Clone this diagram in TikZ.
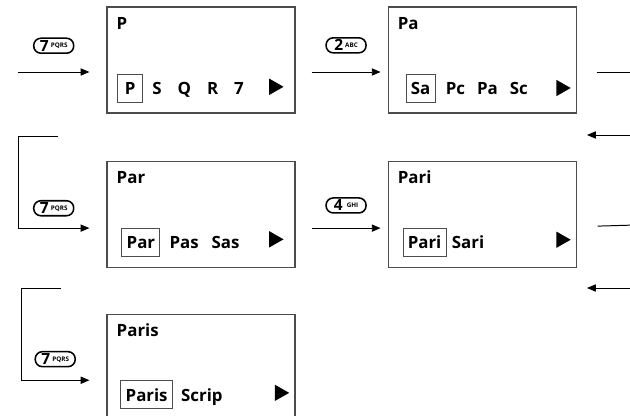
\documentclass[tikz,border=0pt]{standalone}
\usepackage{fontspec}
\setmainfont{Open Sans}
\usetikzlibrary{arrows.meta, positioning, calc}

\begin{document}
\begin{tikzpicture}[
  screen/.style={rectangle, draw=black!70, line width=0.8pt, minimum width=4.7cm,
    minimum height=2.65cm, inner sep=0},
  title/.style={anchor=base west, inner sep=0, font=\fontsize{12}{14}\selectfont\bfseries},
  cand/.style={rectangle, draw=black!70, line width=0.6pt, minimum height=0.7cm,
    minimum width=0.62cm, inner sep=0.12cm, font=\fontsize{12}{14}\selectfont\bfseries},
  rest/.style={inner sep=0, font=\fontsize{12}{14}\selectfont\bfseries},
  key/.style={rectangle, draw, line width=1.1pt, rounded corners=0.18cm, minimum width=1cm,
    minimum height=0.375cm, inner sep=0, font=\fontsize{11}{11}\selectfont\bfseries},
  signal/.style={-{Triangle[length=2.2mm, width=1.8mm]}, line width=0.7pt},
  feed/.style={line width=0.7pt}
]
\useasboundingbox (0,0) rectangle (15.75,-10.4);

% Screens
\node[screen] (sP) at (5.025,-1.5) {};
\node[screen, right=2.3cm of sP] (sPa) {};
\node[screen, below=1.175cm of sP] (sPar) {};
\node[screen, right=2.3cm of sPar] (sPari) {};
\node[screen, below=1.15cm of sPar] (sParis) {};

% Titles
\node[title] (tP) at ($(sP.north west)+(0.25,-0.575)$) {P};
\node[title] (tPa) at ($(sPa.north west)+(0.25,-0.575)$) {Pa};
\node[title] (tPar) at ($(sPar.north west)+(0.25,-0.575)$) {Par};
\node[title] (tPari) at ($(sPari.north west)+(0.25,-0.575)$) {Pari};
\node[title] (tParis) at ($(sParis.north west)+(0.25,-0.575)$) {Paris};

% Candidates
\node[cand, right=0.275cm of sP.west, yshift=-0.72cm] (cP) {P};
\node[rest, right=0.225cm of cP.base east, anchor=base west] (rP)
  {S\hspace{0.4cm}Q\hspace{0.4cm}R\hspace{0.4cm}7};
\node[cand, right=0.45cm of sPa.west, yshift=-0.71cm] (cPa) {Sa};
\node[rest, right=0.25cm of cPa.base east, anchor=base west] (rPa)
  {Pc\hspace{0.3cm}Pa\hspace{0.3cm}Sc};
\node[cand, right=0.375cm of sPar.west, yshift=-0.7cm] (cPar) {Par};
\node[rest, right=0.225cm of cPar.base east, anchor=base west] (rPar)
  {Pas\hspace{0.32cm}Sas};
\node[cand, right=0.375cm of sPari.west, yshift=-0.7cm] (cPari) {Pari};
\node[rest, right=0.125cm of cPari.base east, anchor=base west] (rPari) {Sari};
\node[cand, right=0.35cm of sParis.west, yshift=-0.69cm] (cParis) {Paris};
\node[rest, right=0.2cm of cParis.base east, anchor=base west] (rParis) {Scrip};

% More marks
\foreach \s/\dx/\dy in {sP/0.3/0.67, sPa/0.15/0.7, sPar/0.3/0.63, sPari/0.15/0.64, sParis/0.16/0.64}
  \fill ($(\s.east)+(-\dx,-\dy)$) -- ++(-0.36,0.205) -- ++(0,-0.41) -- cycle;

% Signals
\coordinate (startP) at (0.45,-1.8);
\coordinate (inP) at ($(sP.west)+(-0.425,-0.3)$);
\draw[signal] (startP) -- node[key, above=0.45cm]
  {7\hspace{1.5pt}\raisebox{2.5pt}{\fontsize{4.5}{5}\selectfont PQRS}} (inP);
\coordinate (outP) at ($(sP.east)+(0.4,-0.3)$);
\coordinate (inPa) at ($(sPa.west)+(-0.175,-0.3)$);
\draw[signal] (outP) -- node[key, above=0.46cm]
  {2\hspace{1.5pt}\raisebox{2.5pt}{\fontsize{4.5}{5}\selectfont ABC}} (inPa);
\coordinate (outPa) at ($(sPa.east)+(0.5,-0.3)$);
\coordinate (edgePa) at (15.9,-1.8);
\draw[feed] (outPa) -- (edgePa);

% Back into row two
\coordinate (backA) at (15.9,-3.375);
\coordinate (backAend) at (14.675,-3.375);
\draw[signal] (backA) -- (backAend);
\coordinate (loopA) at (1.45,-3.4);
\coordinate (inPar) at ($(sPar.west)+(-0.425,-0.35)$);
\draw[signal] (loopA) -- ++(-1,0) |- node[key, above=0.29cm, pos=0.75]
  {7\hspace{1.5pt}\raisebox{2.5pt}{\fontsize{4.5}{5}\selectfont PQRS}} (inPar);
\coordinate (outPar) at ($(sPar.east)+(0.4,-0.35)$);
\coordinate (inPari) at ($(sPari.west)+(-0.175,-0.35)$);
\draw[signal] (outPar) -- node[key, above=0.36cm]
  {4\hspace{3pt}\raisebox{2.5pt}{\fontsize{4.5}{5}\selectfont GHI}} (inPari);
\coordinate (outPari) at ($(sPari.east)+(0.525,-0.3)$);
\coordinate (edgePari) at (15.9,-5.625);
\draw[feed] (outPari) -- (edgePari);

% Back into row three
\coordinate (backB) at (15.9,-7.2);
\coordinate (backBend) at (14.675,-7.2);
\draw[signal] (backB) -- (backBend);
\coordinate (loopB) at (1.525,-7.2);
\coordinate (inParis) at ($(sParis.west)+(-0.425,-0.325)$);
\draw[signal] (loopB) -- ++(-1,0) |- node[key, above=0.32cm, pos=0.75]
  {7\hspace{1.5pt}\raisebox{2.5pt}{\fontsize{4.5}{5}\selectfont PQRS}} (inParis);
\end{tikzpicture}
\end{document}
